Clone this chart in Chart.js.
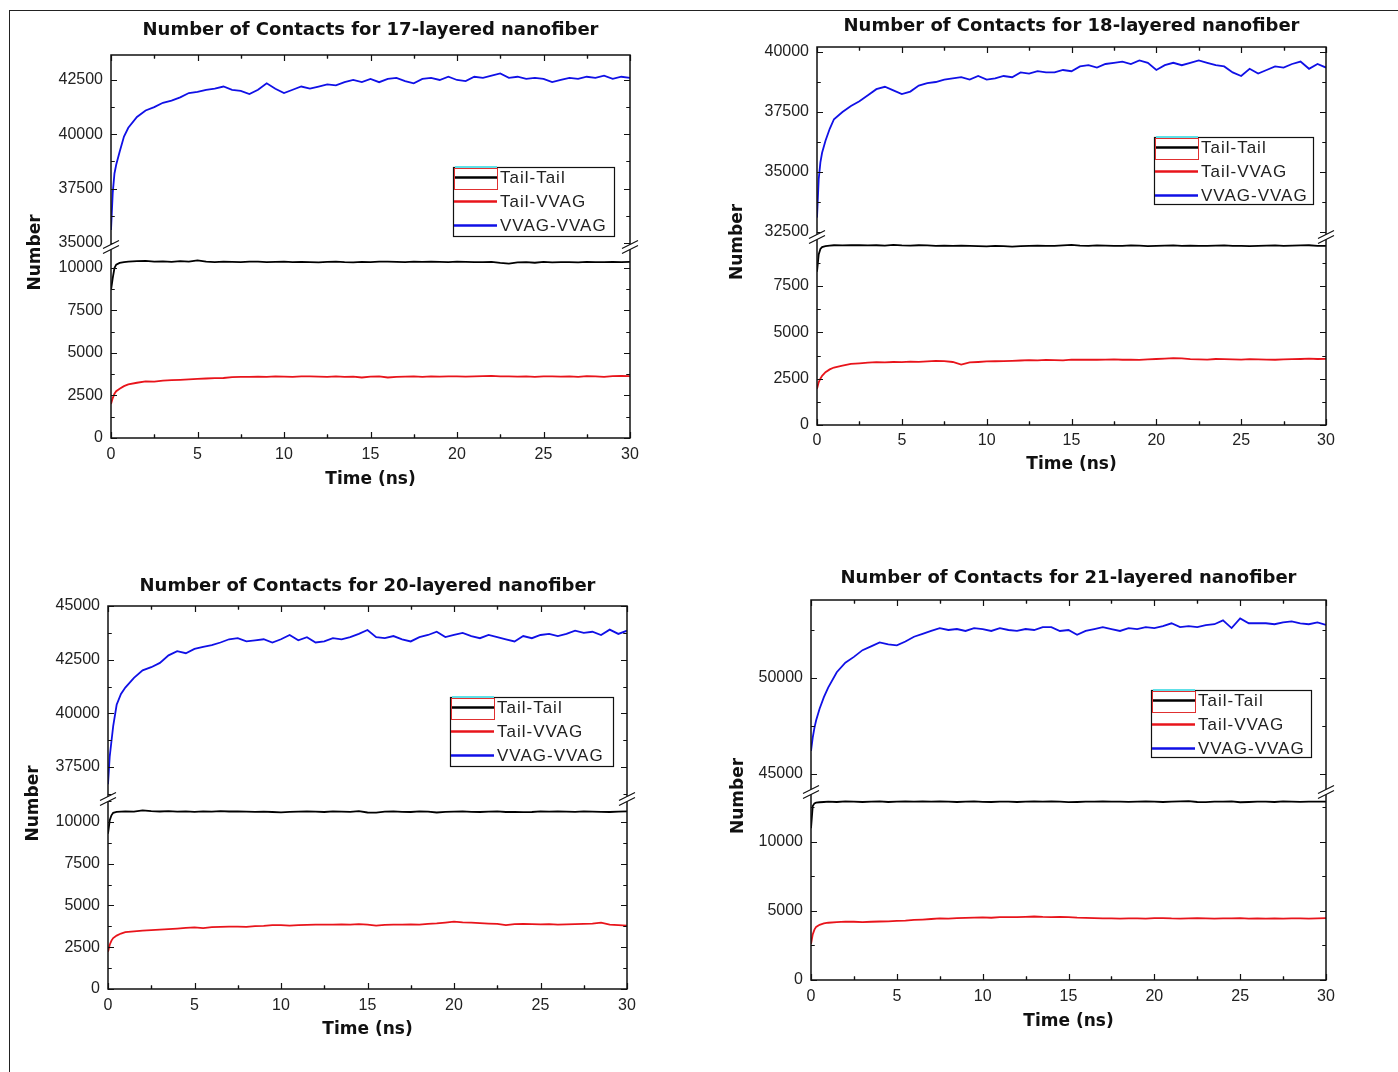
<!DOCTYPE html>
<html>
<head>
<meta charset="utf-8">
<script src="https://cdn.jsdelivr.net/npm/chart.js@4.4.1/dist/chart.umd.min.js"></script>
<style>
  body { margin: 0; background: #fff; width: 1398px; height: 1072px; overflow: hidden; position: relative; }
  .frame { position: absolute; left: 9px; top: 10px; width: 1400px; height: 1070px; border-top: 1px solid #222; border-left: 1px solid #222; }
  .panel { position: absolute; }
</style>
</head>
<body>
<div class="frame"></div>
<div class="panel" id="box17"><canvas id="c17"></canvas></div>
<div class="panel" id="box18"><canvas id="c18"></canvas></div>
<div class="panel" id="box20"><canvas id="c20"></canvas></div>
<div class="panel" id="box21"><canvas id="c21"></canvas></div>
<script>
// time axis (ns), shared by every series
const timeNs = [0, 0.1, 0.2, 0.3, 0.5, 0.75, 1, 1.5, 2, 2.5, 3, 3.5, 4, 4.5, 5, 5.5, 6, 6.5, 7, 7.5,
    8, 8.5, 9, 9.5, 10, 10.5, 11, 11.5, 12, 12.5, 13, 13.5, 14, 14.5, 15, 15.5, 16, 16.5, 17, 17.5,
    18, 18.5, 19, 19.5, 20, 20.5, 21, 21.5, 22, 22.5, 23, 23.5, 24, 24.5, 25, 25.5, 26, 26.5, 27, 27.5,
    28, 28.5, 29, 29.5, 30];

// 17-layered
const vvagVvag17 = [35600, 37300, 38200, 38600, 39200, 39900, 40300, 40800, 41100, 41250,
    41450, 41550, 41700, 41900, 41950, 42050, 42100, 42200, 42050, 42000,
    41850, 42050, 42350, 42100, 41900, 42050, 42200, 42100, 42200, 42300,
    42250, 42400, 42500, 42400, 42550, 42400, 42550, 42600, 42450, 42350,
    42550, 42600, 42500, 42650, 42500, 42450, 42650, 42600, 42700, 42800,
    42600, 42650, 42550, 42600, 42550, 42400, 42500, 42600, 42550, 42650,
    42600, 42700, 42550, 42650, 42600];
const tailTail17 = [8700, 9400, 10000, 10200, 10300, 10350, 10380, 10400, 10420, 10380,
    10390, 10360, 10400, 10380, 10450, 10370, 10350, 10380, 10360, 10340,
    10370, 10380, 10350, 10360, 10370, 10340, 10360, 10350, 10330, 10360,
    10370, 10340, 10330, 10360, 10350, 10370, 10380, 10360, 10350, 10370,
    10360, 10380, 10360, 10350, 10370, 10360, 10340, 10350, 10360, 10300,
    10260, 10330, 10340, 10310, 10360, 10330, 10340, 10350, 10330, 10360,
    10350, 10340, 10360, 10350, 10360];
const tailVvag17 = [2000, 2350, 2600, 2750, 2900, 3050, 3150, 3250, 3330, 3320,
    3380, 3400, 3420, 3450, 3480, 3500, 3520, 3530, 3580, 3600,
    3590, 3610, 3600, 3620, 3610, 3590, 3620, 3630, 3610, 3600,
    3620, 3590, 3610, 3560, 3610, 3620, 3560, 3590, 3610, 3620,
    3600, 3630, 3610, 3620, 3630, 3610, 3620, 3640, 3660, 3620,
    3630, 3610, 3620, 3600, 3620, 3630, 3610, 3620, 3600, 3640,
    3630, 3600, 3640, 3650, 3640];

// 18-layered
const vvagVvag18 = [33100, 34700, 35400, 35800, 36300, 36800, 37200, 37500, 37750, 37950,
    38200, 38450, 38550, 38400, 38250, 38350, 38600, 38700, 38750, 38850,
    38900, 38950, 38850, 39000, 38850, 38900, 39000, 38950, 39150, 39100,
    39200, 39150, 39150, 39250, 39200, 39400, 39450, 39350, 39500, 39550,
    39600, 39500, 39650, 39550, 39250, 39450, 39550, 39450, 39550, 39650,
    39550, 39450, 39400, 39150, 39000, 39300, 39100, 39250, 39400, 39350,
    39500, 39600, 39300, 39500, 39350];
const tailTail18 = [8270, 9200, 9500, 9600, 9650, 9680, 9700, 9690, 9710, 9700,
    9690, 9700, 9680, 9720, 9690, 9680, 9700, 9690, 9670, 9680,
    9660, 9680, 9670, 9650, 9640, 9660, 9650, 9630, 9650, 9660,
    9680, 9670, 9660, 9690, 9720, 9680, 9670, 9690, 9680, 9660,
    9670, 9690, 9680, 9650, 9660, 9680, 9690, 9670, 9680, 9660,
    9670, 9680, 9690, 9670, 9660, 9650, 9670, 9680, 9690, 9660,
    9680, 9690, 9700, 9670, 9660];
const tailVvag18 = [1950, 2300, 2500, 2650, 2850, 3000, 3100, 3200, 3300, 3330,
    3370, 3390, 3380, 3400, 3390, 3420, 3410, 3430, 3460, 3450,
    3400, 3260, 3380, 3400, 3430, 3440, 3450, 3460, 3480, 3500,
    3490, 3510, 3500, 3490, 3530, 3520, 3530, 3520, 3530, 3540,
    3520, 3530, 3510, 3540, 3560, 3580, 3610, 3600, 3550, 3540,
    3530, 3560, 3550, 3540, 3530, 3550, 3540, 3530, 3520, 3540,
    3550, 3560, 3580, 3560, 3570];

// 20-layered
const vvagVvag20 = [36700, 38000, 38700, 39400, 40400, 40900, 41200, 41650, 42000, 42150,
    42350, 42700, 42900, 42800, 43000, 43100, 43180, 43300, 43450, 43500,
    43350, 43400, 43450, 43300, 43450, 43650, 43400, 43550, 43300, 43350,
    43500, 43450, 43550, 43700, 43880, 43550, 43500, 43600, 43450, 43350,
    43550, 43650, 43800, 43550, 43650, 43750, 43600, 43500, 43650, 43550,
    43450, 43350, 43600, 43500, 43650, 43700, 43600, 43700, 43850, 43750,
    43800, 43650, 43900, 43700, 43850];
const tailTail20 = [9300, 10100, 10400, 10550, 10600, 10620, 10640, 10620, 10700, 10650,
    10630, 10650, 10620, 10640, 10610, 10630, 10620, 10650, 10630, 10640,
    10620, 10610, 10620, 10600, 10580, 10610, 10620, 10640, 10620, 10600,
    10630, 10620, 10610, 10650, 10570, 10560, 10620, 10640, 10610, 10600,
    10630, 10620, 10570, 10610, 10620, 10630, 10610, 10600, 10620, 10640,
    10600, 10610, 10590, 10600, 10630, 10620, 10640, 10620, 10610, 10630,
    10620, 10610, 10600, 10620, 10640];
const tailVvag20 = [2230, 2650, 2900, 3050, 3200, 3320, 3400, 3450, 3500, 3520,
    3550, 3580, 3620, 3660, 3690, 3650, 3700, 3720, 3730, 3740,
    3720, 3760, 3780, 3830, 3820, 3800, 3830, 3840, 3850, 3860,
    3850, 3870, 3860, 3880, 3850, 3800, 3840, 3860, 3850, 3870,
    3860, 3900, 3930, 3980, 4030, 3990, 3980, 3950, 3920, 3900,
    3830, 3880, 3900, 3880, 3870, 3880, 3860, 3870, 3880, 3900,
    3920, 3970, 3850, 3830, 3800];

// 21-layered
const vvagVvag21 = [46200, 46900, 47400, 47800, 48400, 49000, 49500, 50300, 50800, 51100,
    51450, 51650, 51850, 51750, 51700, 51900, 52150, 52300, 52450, 52600,
    52500, 52550, 52450, 52600, 52550, 52450, 52600, 52500, 52450, 52550,
    52500, 52650, 52650, 52450, 52500, 52250, 52450, 52550, 52650, 52550,
    52450, 52600, 52550, 52650, 52600, 52700, 52850, 52650, 52700, 52650,
    52750, 52800, 53000, 52600, 53100, 52850, 52850, 52850, 52800, 52900,
    52950, 52850, 52800, 52900, 52760];
const tailTail21 = [11000, 12600, 12800, 12850, 12880, 12900, 12920, 12900, 12950, 12930,
    12900, 12920, 12940, 12900, 12930, 12950, 12920, 12940, 12920, 12950,
    12930, 12900, 12920, 12940, 12910, 12900, 12930, 12920, 12900, 12930,
    12940, 12920, 12950, 12930, 12890, 12900, 12920, 12930, 12940, 12920,
    12930, 12910, 12920, 12940, 12930, 12900, 12920, 12940, 12960, 12900,
    12890, 12920, 12930, 12940, 12880, 12900, 12920, 12930, 12900, 12940,
    12920, 12910, 12930, 12920, 12920];
const tailVvag21 = [2600, 3300, 3650, 3850, 4000, 4100, 4150, 4200, 4230, 4220,
    4200, 4220, 4240, 4250, 4280, 4300, 4350, 4380, 4420, 4470,
    4450, 4480, 4500, 4520, 4540, 4510, 4560, 4550, 4560, 4580,
    4600, 4570, 4560, 4580, 4560, 4520, 4500, 4480, 4470, 4460,
    4450, 4470, 4460, 4450, 4480, 4490, 4460, 4450, 4470, 4480,
    4460, 4450, 4470, 4460, 4480, 4450, 4470, 4450, 4460, 4450,
    4470, 4460, 4450, 4460, 4480];

// tick labels
const xTicks = [0, 5, 10, 15, 20, 25, 30];
const upperTicks17 = [35000, 37500, 40000, 42500];
const lowerTicks17 = [0, 2500, 5000, 7500, 10000];
const upperTicks18 = [32500, 35000, 37500, 40000];
const lowerTicks18 = [0, 2500, 5000, 7500];
const upperTicks20 = [37500, 40000, 42500, 45000];
const lowerTicks20 = [0, 2500, 5000, 7500, 10000];
const upperTicks21 = [45000, 50000];
const lowerTicks21 = [0, 5000, 10000];

const seriesNames = ['Tail-Tail', 'Tail-VVAG', 'VVAG-VVAG'];
const seriesColors = ['#000000', '#e8141b', '#1010e6'];

Chart.defaults.font.family = 'Arial, "Liberation Sans", sans-serif';
Chart.defaults.color = '#222';

const boldFont = '"DejaVu Sans", Verdana, sans-serif';
const padL = 100, padR = 30, padT = 45, padB = 62;

const panels = [
    { canvas: 'c17', box: 'box17', num: 17, series: [tailTail17, tailVvag17, vvagVvag17],
      upTicks: upperTicks17, lowTicks: lowerTicks17, upRange: [34816, 43650], lowRange: [0, 11235],
      upStep: 2500, lowStep: 2500,
      plot: { left: 111, top: 55, right: 630, bottom: 438 }, breakY: 247,
      titleGap: 25, xLabelDy: 17, xTitleDy: 42, yTitleDx: -75,
      legend: { x: 453, y: 167, w: 161, h: 69 } },
    { canvas: 'c18', box: 'box18', num: 18, series: [tailTail18, tailVvag18, vvagVvag18],
      upTicks: upperTicks18, lowTicks: lowerTicks18, upRange: [32292, 40208], lowRange: [0, 10144],
      upStep: 2500, lowStep: 2500,
      plot: { left: 817, top: 47, right: 1326, bottom: 425 }, breakY: 237,
      titleGap: 21, xLabelDy: 16, xTitleDy: 40, yTitleDx: -79,
      legend: { x: 1154, y: 137, w: 159, h: 67 } },
    { canvas: 'c20', box: 'box20', num: 20, series: [tailTail20, tailVvag20, vvagVvag20],
      upTicks: upperTicks20, lowTicks: lowerTicks20, upRange: [36010, 45000], lowRange: [0, 11377],
      upStep: 2500, lowStep: 2500,
      plot: { left: 108, top: 606, right: 627, bottom: 989 }, breakY: 799,
      titleGap: 20, xLabelDy: 17, xTitleDy: 41, yTitleDx: -74,
      legend: { x: 450, y: 697, w: 163, h: 69 } },
    { canvas: 'c21', box: 'box21', num: 21, series: [tailTail21, tailVvag21, vvagVvag21],
      upTicks: upperTicks21, lowTicks: lowerTicks21, upRange: [44063, 54062], lowRange: [0, 13623],
      upStep: 5000, lowStep: 5000,
      plot: { left: 811, top: 600, right: 1326, bottom: 980 }, breakY: 792,
      titleGap: 22, xLabelDy: 17, xTitleDy: 42, yTitleDx: -72,
      legend: { x: 1151, y: 690, w: 160, h: 67 } }
];

// inward ticks, frame, axis breaks, y title and the boxed legend
const decorPlugin = {
    id: 'decor',
    afterDraw(chart, args, o) {
        const ctx = chart.ctx;
        const a = chart.chartArea;
        const up = chart.scales.yUp, low = chart.scales.yLow, xs = chart.scales.x;
        ctx.save();
        ctx.strokeStyle = '#111';
        ctx.lineWidth = 1.2;

        const halves = (vals, step) => vals.flatMap(v => [v - step / 2, v + step / 2]);
        const tickY = (scale, vals, len) => vals.forEach(v => {
            if (v < scale.min || v > scale.max) return;
            const y = Math.round(scale.getPixelForValue(v)) + 0.5;
            ctx.beginPath();
            ctx.moveTo(a.left, y); ctx.lineTo(a.left + len, y);
            ctx.moveTo(a.right, y); ctx.lineTo(a.right - len, y);
            ctx.stroke();
        });
        const tickX = (vals, len) => vals.forEach(v => {
            if (v < xs.min || v > xs.max) return;
            const x = Math.round(xs.getPixelForValue(v)) + 0.5;
            ctx.beginPath();
            ctx.moveTo(x, a.bottom); ctx.lineTo(x, a.bottom - len);
            ctx.moveTo(x, a.top); ctx.lineTo(x, a.top + len);
            ctx.stroke();
        });
        tickY(up, o.upTicks, 6);
        tickY(up, halves(o.upTicks, o.upStep), 3.5);
        tickY(low, o.lowTicks, 6);
        tickY(low, halves(o.lowTicks, o.lowStep), 3.5);
        tickX(xTicks, 6);
        tickX(halves(xTicks, 5), 3.5);

        ctx.lineWidth = 1.5;
        ctx.strokeRect(a.left, a.top, a.right - a.left, a.bottom - a.top);

        // "//" break marks where the two y ranges meet
        const by = up.bottom;
        [a.left, a.right].forEach(x => {
            ctx.fillStyle = '#fff';
            ctx.beginPath();
            ctx.moveTo(x - 8, by + 1.5); ctx.lineTo(x + 8, by - 6.5);
            ctx.lineTo(x + 8, by - 1.5); ctx.lineTo(x - 8, by + 6.5);
            ctx.closePath();
            ctx.fill();
            ctx.lineWidth = 1.2;
            ctx.beginPath();
            ctx.moveTo(x - 8, by + 1.5); ctx.lineTo(x + 8, by - 6.5);
            ctx.moveTo(x - 8, by + 6.5); ctx.lineTo(x + 8, by - 1.5);
            ctx.stroke();
        });

        // y axis title across both ranges
        ctx.save();
        ctx.translate(a.left + o.yTitleDx, (a.top + a.bottom) / 2 + 6);
        ctx.rotate(-Math.PI / 2);
        ctx.font = 'bold 17px ' + boldFont;
        ctx.fillStyle = '#111';
        ctx.textAlign = 'center';
        ctx.textBaseline = 'middle';
        ctx.fillText('Number', 0, 0);
        ctx.restore();

        // legend box
        const lg = o.legend;
        ctx.fillStyle = '#fff';
        ctx.fillRect(lg.x, lg.y, lg.w, lg.h);
        ctx.strokeStyle = '#111';
        ctx.lineWidth = 1.2;
        ctx.strokeRect(lg.x + 0.5, lg.y + 0.5, lg.w, lg.h);
        ctx.font = '17px Arial, "Liberation Sans", sans-serif';
        ctx.letterSpacing = '1px';
        ctx.textBaseline = 'middle';
        chart.data.datasets.forEach((ds, i) => {
            const ry = lg.y + 10.5 + i * 24;
            ctx.strokeStyle = ds.borderColor;
            ctx.lineWidth = 2.5;
            ctx.beginPath();
            ctx.moveTo(lg.x + 1, ry); ctx.lineTo(lg.x + 44, ry);
            ctx.stroke();
            ctx.fillStyle = '#222';
            ctx.fillText(ds.label, lg.x + 47, ry + 1);
        });
        // stray selection marks around the first sample, as in the source
        ctx.strokeStyle = '#e03030';
        ctx.lineWidth = 1;
        ctx.strokeRect(lg.x + 1.5, lg.y + 1.5, 43, 21);
        ctx.strokeStyle = '#5ee0e8';
        ctx.lineWidth = 2;
        ctx.beginPath();
        ctx.moveTo(lg.x + 2, lg.y); ctx.lineTo(lg.x + 44, lg.y);
        ctx.stroke();
        ctx.restore();
    }
};

function makePanel(p) {
    const left = p.plot.left - padL;
    const top = p.plot.top - padT;
    const width = p.plot.right - p.plot.left + padL + padR;
    const height = p.plot.bottom - p.plot.top + padT + padB;
    const box = document.getElementById(p.box);
    box.style.left = left + 'px';
    box.style.top = top + 'px';
    const canvas = document.getElementById(p.canvas);
    canvas.width = width;
    canvas.height = height;
    canvas.style.width = width + 'px';
    canvas.style.height = height + 'px';

    const xScaleH = p.xTitleDy + 10.2;
    const toPoints = vals => timeNs.map((t, i) => ({ x: t, y: vals[i] }));
    const yAxis = (range, ticks, weight) => ({
        type: 'linear',
        position: 'left',
        stack: 'panel',
        stackWeight: weight,
        min: range[0],
        max: range[1],
        afterBuildTicks: s => { s.ticks = ticks.map(v => ({ value: v })); },
        afterFit: s => { s.width = padL; },
        ticks: { font: { size: 16 }, padding: 8, color: '#222', callback: v => String(v) },
        grid: { display: false, drawTicks: false },
        border: { display: false }
    });

    new Chart(canvas, {
        type: 'line',
        data: {
            datasets: p.series.map((vals, i) => ({
                label: seriesNames[i],
                data: toPoints(vals),
                borderColor: seriesColors[i],
                borderWidth: 1.8,
                pointRadius: 0,
                tension: 0,
                fill: false,
                yAxisID: i === 2 ? 'yUp' : 'yLow'
            }))
        },
        options: {
            responsive: false,
            animation: false,
            devicePixelRatio: 1,
            layout: { padding: { left: 0, top: 0, right: padR, bottom: padB - xScaleH } },
            scales: {
                x: {
                    type: 'linear',
                    min: 0,
                    max: 30,
                    afterBuildTicks: s => { s.ticks = xTicks.map(v => ({ value: v })); },
                    afterFit: s => { s.height = xScaleH; },
                    ticks: { font: { size: 16 }, padding: p.xLabelDy - 9.6, maxRotation: 0, color: '#222' },
                    grid: { display: false, drawTicks: false },
                    border: { display: false },
                    title: { display: true, text: 'Time (ns)', padding: 0, color: '#111',
                             font: { family: boldFont, size: 17, weight: 'bold' } }
                },
                // left stacks are laid out last-defined on top, so the lower range comes first
                yLow: yAxis(p.lowRange, p.lowTicks, p.plot.bottom - p.breakY),
                yUp: yAxis(p.upRange, p.upTicks, p.breakY - p.plot.top)
            },
            plugins: {
                legend: { display: false },
                tooltip: { enabled: false },
                title: {
                    display: true,
                    fullSize: false,
                    text: 'Number of Contacts for ' + p.num + '-layered nanofiber',
                    color: '#111',
                    font: { family: boldFont, size: 18, weight: 'bold' },
                    padding: { top: padT - p.titleGap - 10.8, bottom: p.titleGap - 10.8 }
                },
                decor: {
                    upTicks: p.upTicks, lowTicks: p.lowTicks, upStep: p.upStep, lowStep: p.lowStep,
                    yTitleDx: p.yTitleDx,
                    legend: { x: p.legend.x - left, y: p.legend.y - top, w: p.legend.w, h: p.legend.h }
                }
            }
        },
        plugins: [decorPlugin]
    });
}

panels.forEach(makePanel);
</script>
</body>
</html>
